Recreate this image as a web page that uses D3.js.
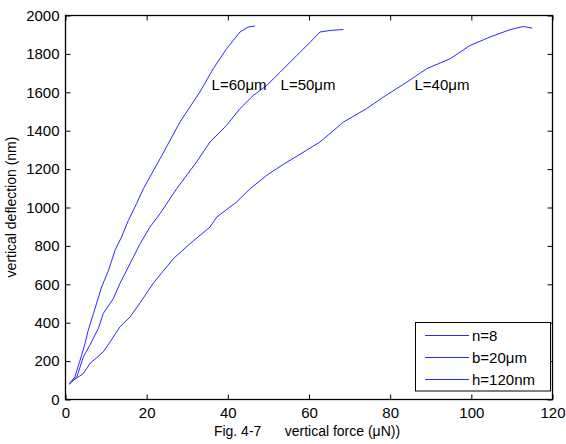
<!DOCTYPE html>
<html>
<head>
<meta charset="utf-8">
<script src="https://cdn.jsdelivr.net/npm/d3@7"></script>
<style>
  body { margin: 0; background: #fff; }
  svg { font-family: "Liberation Sans", Arial, sans-serif; }
</style>
</head>
<body>
<script>
'use strict';

// curve for L=60um
const forceL60 = [0.9, 2.3, 3.6, 4.8, 5.6, 6.9, 8.9, 10.6, 12.2, 13.8, 15.5, 17.5, 19.2, 23.3, 28.2, 33.1, 36.4, 39.7, 43.0, 45.0, 46.7];
const deflL60 = [80, 118, 205, 291, 361, 448, 586, 673, 777, 846, 933, 1020, 1098, 1254, 1445, 1601, 1723, 1827, 1914, 1940, 1945];

// curve for L=50um
const forceL50 = [0.9, 2.8, 4.4, 6.0, 8.1, 9.3, 11.8, 13.4, 15.9, 18.4, 20.8, 23.3, 27.4, 32.3, 35.6, 39.7, 43.0, 46.3, 49.6, 52.9, 57.0, 60.3, 62.7, 65.2, 68.5];
const deflL50 = [80, 118, 222, 283, 370, 448, 526, 604, 708, 812, 898, 968, 1098, 1237, 1341, 1428, 1515, 1584, 1636, 1705, 1792, 1861, 1914, 1922, 1927];

// curve for L=40um
const forceL40 = [0.9, 1.9, 4.4, 6.0, 9.3, 11.0, 13.4, 15.9, 18.4, 21.6, 26.6, 30.7, 35.6, 37.3, 42.2, 45.5, 49.6, 53.7, 59.4, 62.7, 68.5, 74.2, 78.3, 84.1, 89.0, 94.8, 99.7, 104.6, 109.5, 112.8, 115.0];
const deflL40 = [80, 100, 135, 187, 248, 300, 378, 430, 504, 605, 734, 812, 898, 951, 1029, 1098, 1168, 1225, 1298, 1341, 1445, 1515, 1575, 1653, 1723, 1775, 1844, 1888, 1926, 1943, 1934];

const curveLabels = ["L=60\u03bcm", "L=50\u03bcm", "L=40\u03bcm"];
const labelPos = [[36, 1640], [53, 1640], [86, 1640]]; // data coords
const legendLabels = ["n=8", "b=20\u03bcm", "h=120nm"];
const xTicks = [0, 20, 40, 60, 80, 100, 120];
const yTicks = [0, 200, 400, 600, 800, 1000, 1200, 1400, 1600, 1800, 2000];

const lineColor = '#2a2aff';

const svg = d3.select('body').append('svg')
  .attr('width', 566)
  .attr('height', 444);

const x = d3.scaleLinear().domain([0, 120]).range([65.5, 552.5]);
const y = d3.scaleLinear().domain([0, 2000]).range([399.5, 15.5]);

// axes, ticks pointing inward
const axisStyle = (g) => {
  g.select('.domain').remove();
  g.selectAll('.tick line').attr('stroke', '#000');
  g.selectAll('.tick text').attr('fill', '#000').style('font-size', '15px');
};

svg.append('g')
  .attr('transform', 'translate(0,' + y(0) + ')')
  .call(d3.axisBottom(x).tickValues(xTicks).tickSize(-5).tickPadding(8).tickFormat(d3.format('d')))
  .call(axisStyle);
svg.append('g')
  .attr('transform', 'translate(0,' + y(2000) + ')')
  .call(d3.axisTop(x).tickValues(xTicks).tickSize(-5).tickFormat(''))
  .call(axisStyle);
svg.append('g')
  .attr('transform', 'translate(' + x(0) + ',0)')
  .call(d3.axisLeft(y).tickValues(yTicks).tickSize(-5).tickPadding(6).tickFormat(d3.format('d')))
  .call(axisStyle);
svg.append('g')
  .attr('transform', 'translate(' + x(120) + ',0)')
  .call(d3.axisRight(y).tickValues(yTicks).tickSize(-5).tickFormat(''))
  .call(axisStyle);

svg.append('rect')
  .attr('x', x(0)).attr('y', y(2000))
  .attr('width', x(120) - x(0)).attr('height', y(0) - y(2000))
  .attr('fill', 'none').attr('stroke', '#000').attr('stroke-width', 1.3);

// curves
const line = d3.line().x((d) => x(d[0])).y((d) => y(d[1]));
const series = [[forceL60, deflL60], [forceL50, deflL50], [forceL40, deflL40]];
series.forEach((s) => {
  svg.append('path')
    .datum(d3.zip(s[0], s[1]))
    .attr('d', line)
    .attr('fill', 'none')
    .attr('stroke', lineColor)
    .attr('stroke-width', 1);
});

// curve labels
curveLabels.forEach((t, i) => {
  svg.append('text')
    .attr('x', x(labelPos[i][0]))
    .attr('y', y(labelPos[i][1]))
    .attr('dy', '0.35em')
    .style('font-size', '15px')
    .text(t);
});

// legend
const lg = svg.append('g');
lg.append('rect')
  .attr('x', 415.5).attr('y', 322.5)
  .attr('width', 135).attr('height', 68.5)
  .attr('fill', '#fff').attr('stroke', '#000');
legendLabels.forEach((t, i) => {
  const ly = 335.5 + i * 22;
  lg.append('line')
    .attr('x1', 425).attr('x2', 469)
    .attr('y1', ly).attr('y2', ly)
    .attr('stroke', lineColor);
  lg.append('text')
    .attr('x', 472).attr('y', ly)
    .attr('dy', '0.35em')
    .style('font-size', '15px')
    .text(t);
});

// axis labels
svg.append('text')
  .attr('x', 307).attr('y', 436)
  .attr('text-anchor', 'middle')
  .style('font-size', '14px')
  .style('white-space', 'pre')
  .attr('xml:space', 'preserve')
  .text('Fig. 4-7      vertical force (\u03bcN))');

svg.append('text')
  .attr('transform', 'translate(16,207)rotate(-90)')
  .attr('text-anchor', 'middle')
  .style('font-size', '14px')
  .text('vertical deflection (nm)');
</script>
</body>
</html>
